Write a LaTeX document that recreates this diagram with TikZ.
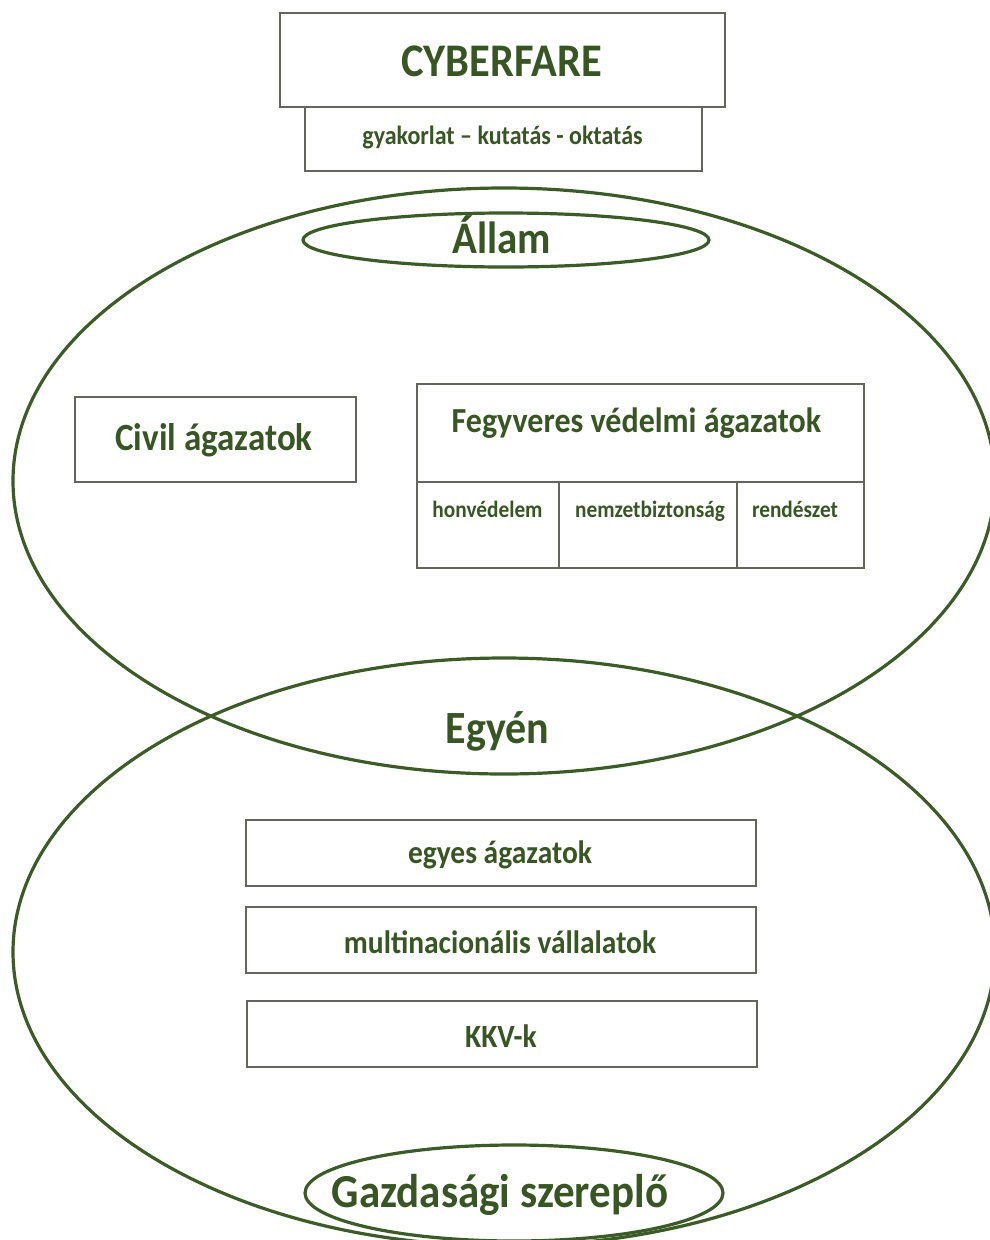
\documentclass[tikz,border=0pt]{standalone}
\usepackage{fontspec}
\usepackage{graphicx}
\setmainfont{Carlito}
\usetikzlibrary{shapes.geometric}
\definecolor{tgreen}{HTML}{375623}
\definecolor{lgreen}{HTML}{3B5B27}
\definecolor{bgray}{HTML}{63665F}
\newcommand\fsz[1]{\fontsize{#1}{#1}\selectfont}
\newcommand\vst[1]{\scalebox{1}[1.1]{#1}}
\begin{document}
\begin{tikzpicture}[x=1pt,y=-1pt,
  box/.style={draw=bgray, line width=1.6pt, rectangle, inner sep=0pt},
  ell/.style={draw=lgreen, line width=3.2pt, ellipse, inner sep=0pt},
  txt/.style={text=tgreen, anchor=base, inner sep=0pt}]
\clip (0,0) rectangle (990,1240);
\fill[white] (0,0) rectangle (990,1240);
% big ellipses
\node[ell, minimum width=982pt, minimum height=586pt] (state) at (504,481) {};
\node[ell, minimum width=982pt, minimum height=588pt] (econ) at (504,952) {};
\node[ell, minimum width=406pt, minimum height=54pt] (allamell) at (506,240) {};
\node[ell, minimum width=418pt, minimum height=96pt] (gazdell) at (514,1193) {};
% boxes
\node[box, minimum width=445pt, minimum height=94pt] (cyb) at (502.5,60) {};
\node[box, minimum width=397pt, minimum height=64pt] (gyak) at (503.5,139) {};
\node[box, minimum width=281pt, minimum height=85pt] (civil) at (215.5,439.5) {};
\node[box, minimum width=447pt, minimum height=98pt] (fegy) at (640.5,433) {};
\node[box, minimum width=142pt, minimum height=86pt] (honv) at (488,525) {};
\node[box, minimum width=178pt, minimum height=86pt] (nemz) at (648,525) {};
\node[box, minimum width=127pt, minimum height=86pt] (rend) at (800.5,525) {};
\node[box, minimum width=510pt, minimum height=66pt] (egyes) at (501,853) {};
\node[box, minimum width=510pt, minimum height=66pt] (multi) at (501,940) {};
\node[box, minimum width=510pt, minimum height=66pt] (kkv) at (502,1034) {};
% texts
\node[txt, font=\bfseries\fsz{42.5}] (tcyb) at (501.5,76) {\vst{CYBERFARE}};
\node[txt, font=\bfseries\fsz{24}] (tgyak) at (502.5,144) {\vst{gyakorlat – kutatás - oktatás}};
\node[txt, font=\bfseries\fsz{41}] (tallam) at (502,253) {\vst{Állam}};
\node[txt, font=\bfseries\fsz{35}] (tcivil) at (214,450) {\vst{Civil ágazatok}};
\node[txt, font=\bfseries\fsz{32}] (tfegy) at (636.5,432) {\vst{Fegyveres védelmi ágazatok}};
\node[txt, font=\bfseries\fsz{21.3}] (thonv) at (487.5,517) {\vst{honvédelem}};
\node[txt, font=\bfseries\fsz{21.3}] (tnemz) at (650,517) {\vst{nemzetbiztonság}};
\node[txt, font=\bfseries\fsz{21.3}] (trend) at (795,517) {\vst{rendészet}};
\node[txt, font=\bfseries\fsz{42}] (tegyen) at (497.5,743) {\vst{Egyén}};
\node[txt, font=\bfseries\fsz{29.5}] (tegyes) at (500,863) {\vst{egyes ágazatok}};
\node[txt, font=\bfseries\fsz{29.5}] (tmulti) at (500,953) {\vst{multinacionális vállalatok}};
\node[txt, font=\bfseries\fsz{29.5}] (tkkv) at (501,1047) {\vst{KKV-k}};
\node[txt, font=\bfseries\fsz{43}] (tgazd) at (500,1207) {\vst{Gazdasági szereplő}};
\end{tikzpicture}
\end{document}
